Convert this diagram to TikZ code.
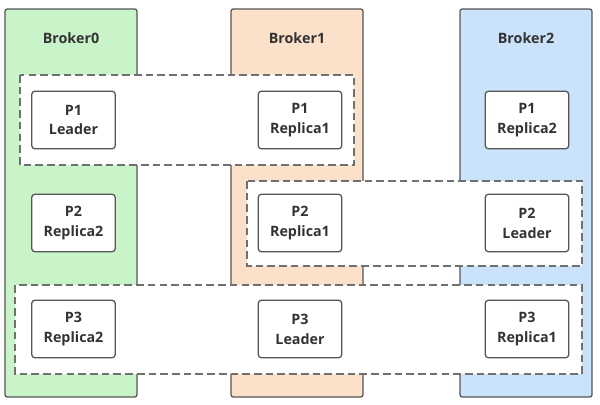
\documentclass[tikz,border=0pt]{standalone}
\usepackage{fontspec}
\setmainfont{Open Sans}
\usetikzlibrary{positioning}
\definecolor{greenfill}{HTML}{C9F4C9}
\definecolor{orangefill}{HTML}{FBE1CA}
\definecolor{bluefill}{HTML}{CAE2FA}
\definecolor{framegray}{HTML}{555555}
\definecolor{dashgray}{HTML}{707070}
\definecolor{textgray}{HTML}{333333}
\begin{document}
\begin{tikzpicture}
            [x = 0.03cm, y = -0.03cm,
             font = \fontsize{12.2}{17}\selectfont\bfseries, text = textgray,
             broker/.style = {draw = framegray, line width = 1.1pt, rounded corners = 2pt,
                              minimum width = 3.96cm, minimum height = 11.64cm, inner sep = 0pt},
             title/.style = {inner sep = 0pt},
             group/.style = {draw = dashgray, fill = white, line width = 1.1pt,
                             dash pattern = on 6.5pt off 3.5pt},
             part/.style = {draw = framegray, fill = white, line width = 1.1pt, rounded corners = 2.5pt,
                            minimum width = 2.5cm, minimum height = 1.72cm, align = center, inner sep = 0pt}]
            \useasboundingbox (0,0) rectangle (600,405);
            % brokers
            \node[broker, fill = greenfill] (B0) at (71,203) {};
            \node[broker, fill = orangefill] (B1) at (297,203) {};
            \node[broker, fill = bluefill] (B2) at (526,203) {};
            \node[title] (T0) at (71,38) {Broker0};
            \node[title] (T1) at (297,38) {Broker1};
            \node[title] (T2) at (526,38) {Broker2};
            % partitions
            \draw[group] (20,75) rectangle (354,165);
            \draw[group] (247,181) rectangle (582,266);
            \draw[group] (15,285) rectangle (582,374);
            \node[part] (P1L) at (73.5,120) {P1\\Leader};
            \node[part] (P1R1) at (300,120) {P1\\Replica1};
            \node[part] (P1R2) at (527,120) {P1\\Replica2};
            \node[part] (P2R2) at (73.5,223) {P2\\Replica2};
            \node[part] (P2R1) at (300,223) {P2\\Replica1};
            \node[part] (P2L) at (527,223) {P2\\Leader};
            \node[part] (P3R2) at (73.5,329) {P3\\Replica2};
            \node[part] (P3L) at (300,329) {P3\\Leader};
            \node[part] (P3R1) at (527,329) {P3\\Replica1};
        \end{tikzpicture}
\end{document}
